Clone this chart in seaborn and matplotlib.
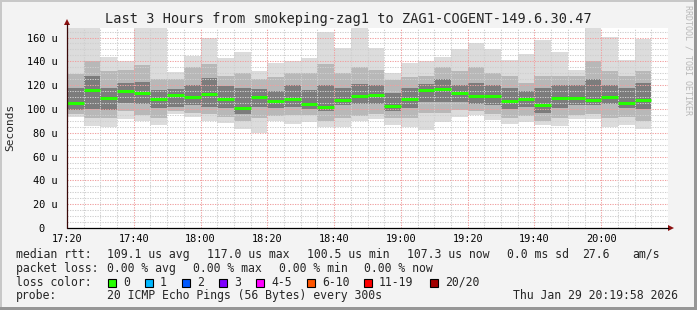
import numpy as np
import matplotlib
matplotlib.use("Agg")
import matplotlib.pyplot as plt
from matplotlib.patches import Rectangle, Polygon
from matplotlib.lines import Line2D
import seaborn as sns

# ---------------- data (microseconds) ----------------
bar_minutes = 5  # each smoke column covers 5 minutes
median_rtt = [105.3, 116.0, 109.2, 115.4, 113.4, 108.4, 111.5, 110.0, 112.6, 108.4,
              100.5, 110.4, 107.0, 108.4, 104.2, 102.0, 107.8, 110.9, 112.0, 102.8,
              108.4, 116.0, 117.0, 113.4, 110.9, 110.9, 107.0, 108.4, 103.6, 109.2,
              109.2, 107.8, 110.4, 105.3, 107.3]
ping_max = [168, 168, 144, 140, 168, 168, 131, 144.5, 159.5, 142.5,
            147.5, 131.5, 139, 140, 143, 165, 151, 168, 151, 130.5,
            139, 140.3, 144, 150.4, 155.7, 150, 141, 146, 158, 148,
            132.8, 168, 160.8, 141, 158.8]
ping_p90 = [129, 140, 132, 133, 137, 125, 125, 135, 138, 128,
            130, 125, 127, 130, 130, 138, 130, 135, 133, 124,
            127, 128, 135, 132, 135, 130, 128, 122, 128, 128,
            128, 140, 132, 128, 132]
ping_p75 = [118, 128, 118, 122, 123, 116, 117, 120, 126, 119,
            118, 117, 115, 120, 116, 120, 118, 121, 120, 113,
            118, 121, 125, 120, 122, 120, 118, 115, 118, 120,
            120, 125, 120, 118, 122]
ping_p25 = [99, 100, 99, 105, 104, 101, 102, 103, 102, 101,
            96, 102, 101, 102, 100, 98, 103, 104, 104, 98,
            101, 106, 106, 106, 104, 103, 100, 102, 97, 101,
            103, 103, 104, 101, 100]
ping_p10 = [96, 92, 92, 98, 95, 92, 98, 97, 96, 93,
            90, 92, 94, 95, 95, 90, 92, 94, 96, 92,
            92, 97, 97, 99, 98, 96, 92, 94, 90, 92,
            95, 96, 92, 93, 90]
ping_min = [93.5, 85.7, 84.6, 91.3, 90, 86.6, 95.8, 93, 90.2, 88,
            83, 80, 90.2, 87.4, 89.3, 84.6, 84.6, 89.7, 91.3, 86.8,
            84.6, 82.4, 89.3, 93.5, 94.7, 90.8, 87.4, 89.3, 86.3, 85.7,
            91.3, 91.3, 85.1, 86.6, 83.4]

x_tick_labels = ["17:20", "17:40", "18:00", "18:20", "18:40", "19:00", "19:20", "19:40", "20:00"]
y_tick_values = [0, 20, 40, 60, 80, 100, 120, 140, 160]
y_tick_labels = ["0  ", "20 u", "40 u", "60 u", "80 u", "100 u", "120 u", "140 u", "160 u"]

title = "Last 3 Hours from smokeping-zag1 to ZAG1-COGENT-149.6.30.47"
loss_labels = ["0", "1", "2", "3", "4-5", "6-10", "11-19", "20/20"]
loss_colors = ["#26ff00", "#00b8ff", "#0059ff", "#7e00ff", "#ff00ff", "#ff5500", "#ff0000", "#a10000"]

# ---------------- figure ----------------
sns.set_style("white")
plt.rcParams["font.family"] = ["DejaVu Sans Mono"]

W, H = 697, 310
fig = plt.figure(figsize=(W / 100, H / 100), dpi=100, facecolor="#f3f3f3")

def fx(px):
    return px / W

def fy(py):
    return (H - py) / H

# frame shading
fig.add_artist(Rectangle((0, fy(2)), 1, 2 / H, transform=fig.transFigure, color="#c8c8c8", lw=0))
fig.add_artist(Rectangle((0, 0), 2 / W, 1, transform=fig.transFigure, color="#c8c8c8", lw=0))
fig.add_artist(Rectangle((fx(694), 0), 3 / W, 1, transform=fig.transFigure, color="#969696", lw=0))
fig.add_artist(Rectangle((0, 0), 1, 3 / H, transform=fig.transFigure, color="#969696", lw=0))

x0, x1, ytop, ybot = 67, 668, 28, 228
ax = fig.add_axes([fx(x0), fy(ybot), (x1 - x0) / W, (ybot - ytop) / H])
ax.set_facecolor("white")
ax.set_xlim(0, 180)
ax.set_ylim(0, 168)

n = len(median_rtt)
xs = np.arange(n) * bar_minutes

layers = [
    (ping_min, ping_max, "#dcdcdc"),
    (ping_p10, ping_p90, "#b8b8b8"),
    (ping_p25, ping_p75, "#7c7c7c"),
]
for lo, hi, col in layers:
    lo = np.array(lo, float)
    hi = np.array(hi, float)
    ax.bar(xs, hi - lo, bottom=lo, width=bar_minutes, align="edge", color=col,
           linewidth=0, zorder=2)

# grid (drawn above smoke like rrdtool)
dot = (0, (1.2, 1.2))
for v in np.arange(5, 168, 5):
    major = v % 20 == 0
    ax.axhline(v, color="#f0a0a0" if major else "#cfcfcf", lw=0.75, ls=dot, zorder=3)
for m in np.arange(5, 180, 5):
    major = m % 20 == 0
    ax.axvline(m, color="#f0a0a0" if major else "#cfcfcf", lw=0.75, ls=dot, zorder=3)

# median lines
ax.hlines(median_rtt, xs, xs + bar_minutes, color="#26ff00", lw=2.2, zorder=4)

for s in ax.spines.values():
    s.set_visible(False)

ax.set_xticks(np.arange(0, 161, 20))
ax.set_xticklabels(x_tick_labels)
ax.set_yticks(y_tick_values)
ax.set_yticklabels(y_tick_labels)
ax.tick_params(axis="both", length=0, labelsize=7.4, colors="#000000")
ax.tick_params(axis="y", pad=7)
ax.tick_params(axis="x", pad=4)

# axes lines with arrows
fig.add_artist(Line2D([fx(67), fx(668)], [fy(228), fy(228)], color="#000000", lw=0.9))
fig.add_artist(Line2D([fx(67), fx(67)], [fy(228), fy(24)], color="#3a0808", lw=0.9))
fig.add_artist(Polygon([[fx(668), fy(225)], [fx(668), fy(231)], [fx(674), fy(228)]],
                       closed=True, transform=fig.transFigure, color="#8b1010", lw=0))
fig.add_artist(Polygon([[fx(64), fy(25)], [fx(70), fy(25)], [fx(67), fy(19)]],
                       closed=True, transform=fig.transFigure, color="#8b1010", lw=0))

# labels
fig.text(fx(348.5), fy(19.5), title, ha="center", va="center", fontsize=9.8)
fig.text(fx(10), fy(127), "Seconds", rotation=90, ha="center", va="center", fontsize=8)
fig.text(fx(688), fy(60), "RRDTOOL / TOBI OETIKER", rotation=270, ha="center", va="center",
         fontsize=6, color="#b8b8b8")

fs = 8.3
rows = [257.7, 271.7, 285.7, 299.3]
row1 = [(16, "median rtt:"), (107, "109.1 us avg"), (207, "117.0 us max"), (307, "100.5 us min"),
        (407, "107.3 us now"), (507, "0.0 ms sd"), (582, "27.6"), (632, "am/s")]
row2 = [(16, "packet loss:"), (107, "0.00 % avg"), (193, "0.00 % max"), (279, "0.00 % min"),
        (364.5, "0.00 % now")]
row4 = [(16, "probe:"), (107, "20 ICMP Echo Pings (56 Bytes) every 300s"),
        (513, "Thu Jan 29 20:19:58 2026")]
for (px, t) in row1:
    fig.text(fx(px), fy(rows[0]), t, ha="left", va="baseline", fontsize=fs)
for (px, t) in row2:
    fig.text(fx(px), fy(rows[1]), t, ha="left", va="baseline", fontsize=fs)
for (px, t) in row4:
    fig.text(fx(px), fy(rows[3]), t, ha="left", va="baseline", fontsize=fs)

fig.text(fx(16), fy(rows[2]), "loss color:", ha="left", va="baseline", fontsize=fs)
box_x = [108, 145, 182, 219, 256, 307, 364, 430]
for bx, lab, col in zip(box_x, loss_labels, loss_colors):
    fig.add_artist(Rectangle((fx(bx), fy(286.5)), 8 / W, 8 / H, transform=fig.transFigure,
                             facecolor=col, edgecolor="black", lw=0.8))
    fig.text(fx(bx + 15), fy(rows[2]), lab, ha="left", va="baseline", fontsize=fs)

fig.savefig("out.png", dpi=100, facecolor=fig.get_facecolor())
